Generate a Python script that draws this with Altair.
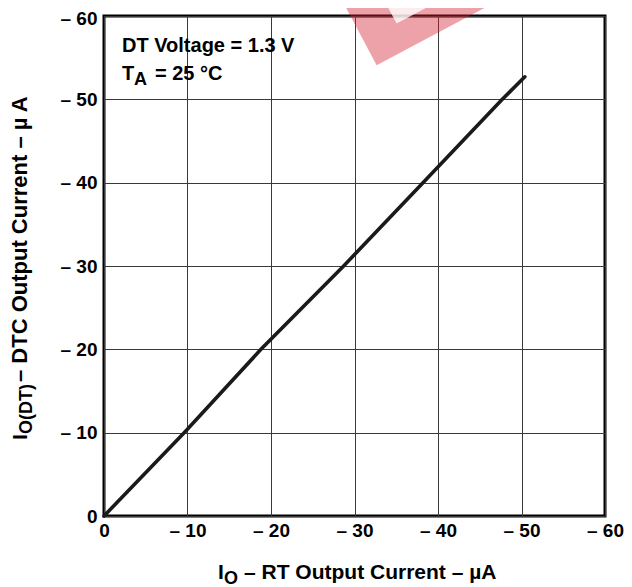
import altair as alt
import pandas as pd

# ---- data ----
rt_current = [0, -9.6, -18.8, -28.7, -38.2, -47.7, -50.4]      # I_O (µA)
dtc_current = [0, -10, -20, -30, -40, -50, -52.7]               # I_O(DT) (µA)
tick_values = [0, -10, -20, -30, -40, -50, -60]

note_line1 = "DT Voltage = 1.3 V"
note_t = "T"
note_sub = "A"
note_rest = "= 25 °C"
xtitle_main = "I"
xtitle_sub = "O"
xtitle_rest = "– RT Output Current – µA"
ytitle_main = "I"
ytitle_sub = "O(DT)"
ytitle_rest = "– DTC Output Current – µ A"

FONT = "'Liberation Sans', Arial, Helvetica, sans-serif"
W, H = 501, 500

df = pd.DataFrame({"x": rt_current, "y": dtc_current})

label_expr = "datum.value == 0 ? '0' : '– ' + format(abs(datum.value), 'd')"

xs = alt.Scale(domain=[0, -60], nice=False, zero=False)
ys = alt.Scale(domain=[0, -60], nice=False, zero=False)

base = alt.Chart(df)

line = base.mark_line(color="#1a1a1a", strokeWidth=3.6, strokeCap="round").encode(
    x=alt.X("x:Q", scale=xs,
            axis=alt.Axis(values=tick_values, labelExpr=label_expr, title=None,
                          grid=True, ticks=False, domain=False,
                          labelPadding=5, labelFlush=False)),
    y=alt.Y("y:Q", scale=ys,
            axis=alt.Axis(values=tick_values, labelExpr=label_expr, title=None,
                          grid=True, ticks=False, domain=False,
                          labelPadding=7, labelFlush=False,
                          labelOffset={"condition": {"test": "datum.value == -60", "value": 2},
                                       "value": 0})),
)

one = alt.Data(values=[{}])


def txt(s, x, y, size=20, angle=0, align="left"):
    return alt.Chart(one).mark_text(
        text=s, font=FONT, fontSize=size, fontWeight="bold", color="black",
        align=align, baseline="alphabetic", angle=angle,
    ).encode(x=alt.value(x), y=alt.value(y))


texts = [
    txt(note_line1, 18, 36),
    txt(note_t, 18, 64),
    txt(note_sub, 30, 69, size=18),
    txt(note_rest, 51, 64),
    txt(xtitle_main, 114, 563, size=21),
    txt(xtitle_sub, 120, 568, size=18),
    txt(xtitle_rest, 140, 563, size=21),
    txt(ytitle_main, -77, 424, size=21, angle=270),
    txt(ytitle_sub, -72, 418, size=18, angle=270),
    txt(ytitle_rest, -77, 366, size=22, angle=270),
]

# faint red watermark fragment at the top of the reference
mark_red = alt.Chart(one).mark_point(
    shape="square", filled=True, color="#d42030", opacity=0.42,
    size=40000, angle=62, strokeWidth=0,
).encode(x=alt.value(314), y=alt.value(-86))
mark_hole = alt.Chart(one).mark_point(
    shape="square", filled=True, color="white", opacity=0.8,
    size=3600, angle=62, strokeWidth=0,
).encode(x=alt.value(305), y=alt.value(-33))

chart = alt.layer(line, *texts, mark_red, mark_hole).properties(
    width=W, height=H,
    autosize=alt.AutoSizeParams(type="none"),
    padding={"left": 96, "top": 8, "right": 19, "bottom": 71},
).configure_view(
    stroke="black", strokeWidth=3,
).configure_axis(
    labelFont=FONT, labelFontSize=19, labelFontWeight="bold", labelColor="black",
    gridColor="#3a3a3a", gridWidth=1, gridOpacity=1,
)

chart.save("out.html", embed_options={"renderer": "svg", "actions": False})
